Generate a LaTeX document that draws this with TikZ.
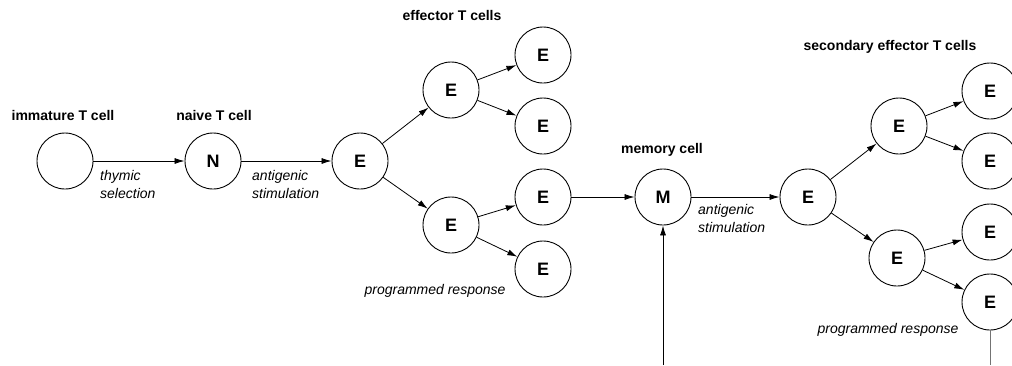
\documentclass[tikz,border=0pt]{standalone}
\usepackage{fontspec}
\setmainfont{Liberation Sans}
\usetikzlibrary{arrows.meta}
\begin{document}
\begin{tikzpicture}[x=1pt,y=-1pt,
  cell/.style={draw,circle,minimum size=56pt,inner sep=0pt,line width=0.9pt,font=\fontsize{18}{18}\selectfont\bfseries},
  title/.style={font=\fontsize{14}{16}\selectfont\bfseries,inner sep=0pt},
  note/.style={font=\fontsize{14}{18}\selectfont\itshape,inner sep=0pt,align=left},
  arr/.style={-{Latex[length=10pt,width=6pt]},line width=0.8pt},
  plain/.style={line width=0.8pt}]
\useasboundingbox (0,0) rectangle (1012,365);
\clip (0,0) rectangle (1012,365);
% left chain
\node[cell] (imm) at (65,161) {};
\node[cell] (nai) at (213,161) {N};
\node[cell] (r1) at (360,161) {E};
\node[cell] (u1) at (451,90) {E};
\node[cell] (d1) at (451,225) {E};
\node[cell] (l1) at (543,55) {E};
\node[cell] (l2) at (543,126) {E};
\node[cell] (l3) at (543,197) {E};
\node[cell] (l4) at (543,269) {E};
\node[cell] (mem) at (663,197) {M};
\node[cell] (r2) at (808,197) {E};
\node[cell] (u2) at (899,126) {E};
\node[cell] (d2) at (897,258) {E};
\node[cell] (k1) at (990,91) {E};
\node[cell] (k2) at (990,161) {E};
\node[cell] (k3) at (990,232) {E};
\node[cell] (k4) at (990,302) {E};
\coordinate (src) at (663,365);
\coordinate (sink) at (990,365);
% titles
\node[title] (t1) at (63,115) {immature T cell};
\node[title] (t2) at (214,115) {naive T cell};
\node[title] (t3) at (452,15) {effector T cells};
\node[title] (t4) at (662,150) {memory cell};
\node[title] (t5) at (890,47) {secondary effector T cells};
% notes
\node[note,anchor=west] (n1) at (100,184) {thymic\\selection};
\node[note,anchor=west] (n2) at (252,184) {antigenic\\stimulation};
\node[note,anchor=west] (n3) at (698,218) {antigenic\\stimulation};
\node[note] (n4) at (435,291) {programmed response};
\node[note] (n5) at (888,330) {programmed response};
% connectors
\draw[arr] (imm) -- (nai);
\draw[arr] (nai) -- (r1);
\draw[arr] (r1) -- (u1);
\draw[arr] (r1) -- (d1);
\draw[arr] (u1) -- (l1);
\draw[arr] (u1) -- (l2);
\draw[arr] (d1) -- (l3);
\draw[arr] (d1) -- (l4);
\draw[arr] (l3) -- (mem);
\draw[arr] (mem) -- (r2);
\draw[arr] (src) -- (mem);
\draw[arr] (r2) -- (u2);
\draw[arr] (r2) -- (d2);
\draw[arr] (u2) -- (k1);
\draw[arr] (u2) -- (k2);
\draw[arr] (d2) -- (k3);
\draw[arr] (d2) -- (k4);
\draw[plain,draw=black!55] (k4) -- (sink);
\end{tikzpicture}
\end{document}
